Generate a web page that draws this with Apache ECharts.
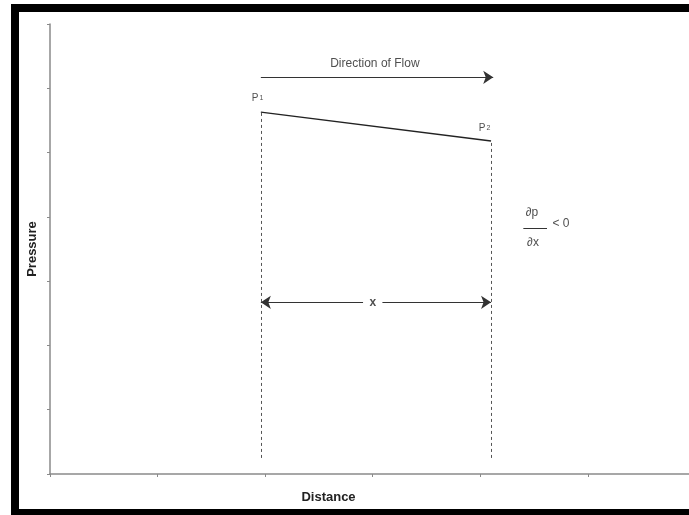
<!DOCTYPE html>
<html>
<head>
<meta charset="utf-8">
<script src="https://cdn.jsdelivr.net/npm/echarts@6/dist/echarts.min.js"></script>
<style>
html, body { margin: 0; padding: 0; width: 689px; height: 515px; overflow: hidden; background: #fff; }
#frame { position: absolute; left: 11px; top: 4px; width: 700px; height: 513px; border: 8px solid #000; box-sizing: border-box; }
#main { position: absolute; left: 0; top: 0; width: 689px; height: 515px; }
</style>
</head>
<body>
<div id="frame"></div>
<div id="main"></div>
<script>
// 数据（坐标轴单位）
var xMax = 5.94;                // 坐标轴在右边被截断
var yTicks = [0, 1, 2, 3, 4, 5, 6, 7];
var pressX = [1.96, 4.10];      // P1, P2 位置
var pressY = [5.63, 5.18];      // P1, P2 压力
var dashBase = 0.25;            // 虚线底部
var flowX = [1.96, 4.12];       // 流向箭头
var flowY = 6.17;
var spanY = 2.67;               // x 距离箭头
var spanGap = [2.91, 3.09];     // 箭头中间留给 "x" 的空隙
var fracX = [4.40, 4.62];       // 分数线
var fracY = 3.83;
var notes = [
    {name: 'flow', value: [3.02, 6.39], text: 'Direction of Flow'},
    {name: 'p1', value: [1.93, 5.85], text: '{p|P}{s|1}'},
    {name: 'p2', value: [4.04, 5.38], text: '{p|P}{s|2}'},
    {name: 'x', value: [3.00, 2.67], text: '{b|x}'},
    {name: 'dp', value: [4.48, 4.07], text: '∂p'},
    {name: 'dx', value: [4.49, 3.60], text: '∂x'},
    {name: 'lt', value: [4.75, 3.89], text: '< 0'}
];

var myChart = echarts.init(document.getElementById('main'));
var axisColor = '#8a8a8a';
var font = 'Liberation Sans, Arial, sans-serif';

var option = {
    animation: false,
    grid: {left: 50, right: 0, top: 24, bottom: 41},
    xAxis: {
        type: 'value',
        min: 0, max: xMax, interval: 1,
        name: 'Distance',
        nameLocation: 'middle',
        nameGap: 17,
        nameTextStyle: {fontFamily: font, fontSize: 13, fontWeight: 'bold', color: '#222', padding: [0, 82, 0, 0]},
        axisLine: {lineStyle: {color: axisColor, width: 1.5}},
        axisTick: {show: true, length: 3, lineStyle: {color: axisColor}},
        axisLabel: {show: false},
        splitLine: {show: false}
    },
    yAxis: {
        type: 'value',
        min: yTicks[0], max: yTicks[yTicks.length - 1], interval: 1,
        name: 'Pressure',
        nameLocation: 'middle',
        nameGap: 11,
        nameRotate: 90,
        nameTextStyle: {fontFamily: font, fontSize: 13, fontWeight: 'bold', color: '#222'},
        axisLine: {show: true, lineStyle: {color: axisColor, width: 1.5}},
        axisTick: {show: true, length: 3, lineStyle: {color: axisColor}},
        axisLabel: {show: false},
        splitLine: {show: false}
    },
    series: [
        {// 压力线
            type: 'line',
            data: [[pressX[0], pressY[0]], [pressX[1], pressY[1]]],
            symbol: 'none',
            lineStyle: {color: '#222', width: 1.3}
        },
        {// 虚线
            type: 'lines',
            coordinateSystem: 'cartesian2d',
            data: [
                {coords: [[pressX[0], dashBase], [pressX[0], pressY[0]]]},
                {coords: [[pressX[1], dashBase], [pressX[1], pressY[1]]]}
            ],
            lineStyle: {color: '#555', width: 1, type: [3, 3], opacity: 1}
        },
        {// 箭头
            type: 'lines',
            coordinateSystem: 'cartesian2d',
            symbol: ['none', 'arrow'],
            symbolSize: [9, 10],
            data: [
                {coords: [[flowX[0], flowY], [flowX[1], flowY]]},
                {coords: [[spanGap[0], spanY], [pressX[0], spanY]]},
                {coords: [[spanGap[1], spanY], [pressX[1], spanY]]}
            ],
            lineStyle: {color: '#333', width: 1.2, opacity: 1},
            itemStyle: {color: '#000'}
        },
        {// 分数线
            type: 'lines',
            coordinateSystem: 'cartesian2d',
            data: [{coords: [[fracX[0], fracY], [fracX[1], fracY]]}],
            lineStyle: {color: '#333', width: 1, opacity: 1}
        },
        {// 文字
            type: 'scatter',
            symbolSize: 0,
            data: notes.map(function (n) {
                return {name: n.name, value: n.value, label: {formatter: n.text}};
            }),
            label: {
                show: true,
                position: 'inside',
                fontFamily: font,
                fontSize: 12,
                color: '#222',
                rich: {
                    p: {fontSize: 10, fontFamily: font, color: '#222'},
                    s: {fontSize: 7, fontFamily: font, color: '#222', padding: [0, 0, 0, 1]},
                    b: {fontSize: 12, fontFamily: font, fontWeight: 'bold', color: '#222'}
                }
            }
        }
    ]
};
if (option && typeof option === "object") {
    myChart.setOption(option, true);
}
</script>
</body>
</html>
